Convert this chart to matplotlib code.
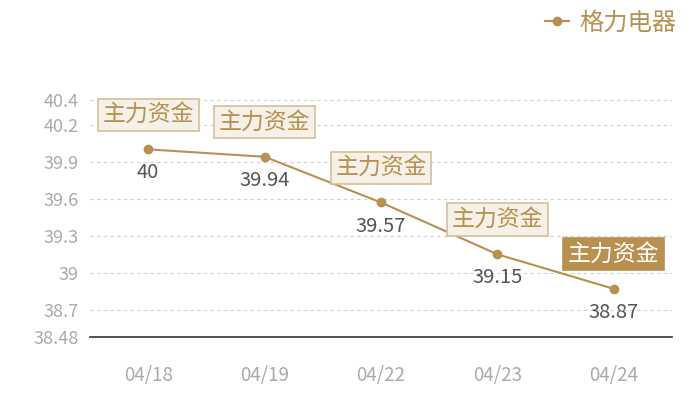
import matplotlib.pyplot as plt

plt.rcParams['font.family'] = ['Noto Sans CJK SC', 'DejaVu Sans']

# data
dates = ["04/18", "04/19", "04/22", "04/23", "04/24"]
prices = [40.0, 39.94, 39.57, 39.15, 38.87]
value_labels = ["40", "39.94", "39.57", "39.15", "38.87"]
tag_text = "主力资金"
series_name = "格力电器"
y_ticks = [38.48, 38.7, 39.0, 39.3, 39.6, 39.9, 40.2, 40.4]
y_tick_labels = ["38.48", "38.7", "39", "39.3", "39.6", "39.9", "40.2", "40.4"]

gold = "#b8904f"

fig = plt.figure(figsize=(7, 4), dpi=100)
ax = fig.add_axes([0.1286, 0.1575, 0.8314, 0.5925])

x = list(range(len(dates)))
line, = ax.plot(x, prices, color=gold, linewidth=1.5, marker="o", markersize=6,
                label=series_name, zorder=3)

ax.set_xlim(-0.5, len(dates) - 0.5)
ax.set_ylim(38.48, 40.4)
ax.set_xticks(x)
ax.set_xticklabels(dates)
ax.set_yticks(y_ticks)
ax.set_yticklabels(y_tick_labels)
ax.tick_params(axis="both", length=0, labelsize=13, labelcolor="#aaaaaa")
ax.tick_params(axis="x", labelsize=13.5, pad=20)
ax.tick_params(axis="y", pad=8)

for yt in y_ticks[1:]:
    ax.axhline(yt, color="#d0d0d0", linewidth=0.8, linestyle=(0, (3, 3)), zorder=1)

for s in ["top", "right", "left"]:
    ax.spines[s].set_visible(False)
ax.spines["bottom"].set_color("#333333")
ax.spines["bottom"].set_linewidth(1.2)

for i, (xi, yi) in enumerate(zip(x, prices)):
    ax.annotate(value_labels[i], (xi, yi), xytext=(0, -17), textcoords="offset points",
                ha="center", va="center", fontsize=14.5, color="#555555")
    last = i == len(x) - 1
    ax.annotate(tag_text, (xi, yi), xytext=(0, 25), textcoords="offset points",
                ha="center", va="center", fontsize=16.5,
                color="white" if last else gold,
                bbox=dict(boxstyle="square,pad=0.2",
                          facecolor=gold if last else "#f5f0e8",
                          edgecolor=gold if last else "#d6bf98",
                          linewidth=1.2),
                zorder=4)

leg = fig.legend(handles=[line], loc="upper right", bbox_to_anchor=(0.997, 1.03),
                 frameon=False, fontsize=17.5, handlelength=1.0, handletextpad=0.4)
for t in leg.get_texts():
    t.set_color(gold)

fig.savefig("out.png", dpi=100)
